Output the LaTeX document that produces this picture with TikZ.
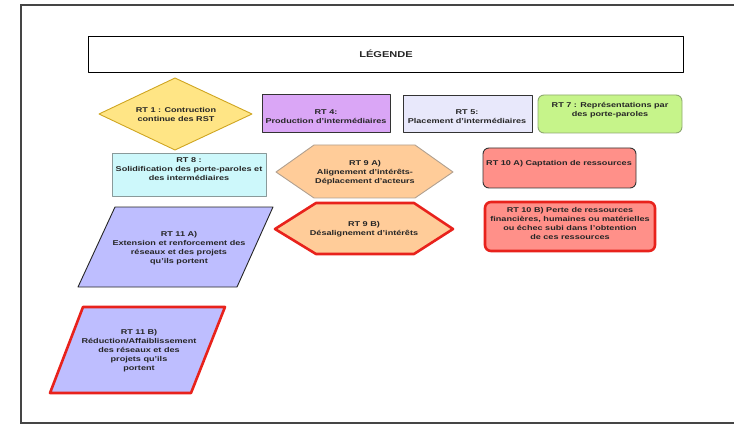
\documentclass[tikz,border=0pt]{standalone}
\usepackage{fontspec}
\setmainfont[FakeStretch=1.3]{Liberation Sans}
\definecolor{framegray}{HTML}{454545}
\definecolor{rtyellow}{HTML}{FFE585}
\definecolor{rtyellowline}{HTML}{CFA520}
\definecolor{rtpurple}{HTML}{DAA6F6}
\definecolor{rtlavender}{HTML}{E8E8FB}
\definecolor{rtgreen}{HTML}{C6F48A}
\definecolor{rtgreenline}{HTML}{8EA870}
\definecolor{rtcyan}{HTML}{CDF8FB}
\definecolor{rtcyanline}{HTML}{8A9A9A}
\definecolor{rtpeach}{HTML}{FFCC99}
\definecolor{rtpeachline}{HTML}{B0A090}
\definecolor{rtsalmon}{HTML}{FF9089}
\definecolor{rtblue}{HTML}{BEBEFF}
\definecolor{rtred}{HTML}{E8221C}
\tikzset{rt/.style = {font=\fontsize{7}{9}\selectfont\bfseries, align=center,
                      text=black!85, inner sep=0pt},
         thin line/.style = {draw=#1, line width=0.9pt, line join=round},
         red line/.style = {draw=rtred, line width=2.6pt, line join=round}}

\begin{document}
\begin{tikzpicture}[x=1pt, y=-1pt]
  \useasboundingbox (0,0) rectangle (734,425);
  \draw [line width=1.8pt, framegray] (734,5) -- (21,5) -- (21,423) -- (734,423);

  \draw [thin line=black] (88,36) rectangle (683,72);
  \node [rt, font=\fontsize{8.5}{9}\selectfont\bfseries] (legende) at (386,54) {LÉGENDE};

  % first row
  \draw [thin line=rtyellowline, fill=rtyellow]
    (99,114) -- (175,78) -- (252,114) -- (175,150) -- cycle;
  \node [rt] (rt1) at (176,114) {RT 1 : Contruction\\continue des RST};

  \draw [thin line=black!80, fill=rtpurple] (262,94) rectangle (390,132);
  \node [rt] (rt4) at (326,117) {RT 4:\\Production d'intermédiaires};

  \draw [thin line=black!80, fill=rtlavender] (403,95) rectangle (532,132);
  \node [rt] (rt5) at (467,117) {RT 5:\\Placement d'intermédiaires};

  \draw [thin line=rtgreenline, fill=rtgreen, rounded corners=6pt] (538,95) rectangle (682,133);
  \node [rt] (rt7) at (610,110) {RT 7 : Représentations par\\des porte-paroles};

  % second row
  \draw [thin line=rtcyanline, fill=rtcyan] (112,153) rectangle (266,196);
  \node [rt] (rt8) at (189,169) {RT 8 :\\Solidification des porte-paroles et\\des intermédiaires};

  \draw [thin line=rtpeachline, fill=rtpeach]
    (276,172) -- (314,145) -- (415,145) -- (453,172) -- (415,198) -- (314,198) -- cycle;
  \node [rt] (rt9a) at (365,173) {RT 9 A)\\Alignement d'intérêts-\\Déplacement d'acteurs};

  \draw [thin line=black!80, fill=rtsalmon, rounded corners=6pt] (483,148) rectangle (636,188);
  \node [rt] (rt10a) at (559,164) {RT 10 A) Captation de ressources};

  % third row
  \draw [thin line=black!85, fill=rtblue]
    (115,207) -- (273,207) -- (237,287) -- (78,287) -- cycle;
  \node [rt] (rt11a) at (179,248) {RT 11 A)\\Extension et renforcement des\\réseaux et des projets\\qu'ils portent};

  \draw [red line, fill=rtpeach]
    (275,229) -- (316,203) -- (414,203) -- (453,229) -- (414,254) -- (316,254) -- cycle;
  \node [rt] (rt9b) at (364,229) {RT 9 B)\\Désalignement d'intérêts};

  \draw [red line, fill=rtsalmon, rounded corners=6pt] (485,202) rectangle (655,251);
  \node [rt] (rt10b) at (570,223) {RT 10 B) Perte de ressources\\financières, humaines ou matérielles\\ou échec subi dans l'obtention\\de ces ressources};

  % last row
  \draw [red line, fill=rtblue]
    (83,307) -- (225,307) -- (191,393) -- (50,393) -- cycle;
  \node [rt] (rt11b) at (139,351) {RT 11 B)\\Réduction/Affaiblissement\\des réseaux et des\\projets qu'ils\\portent};
\end{tikzpicture}
\end{document}
